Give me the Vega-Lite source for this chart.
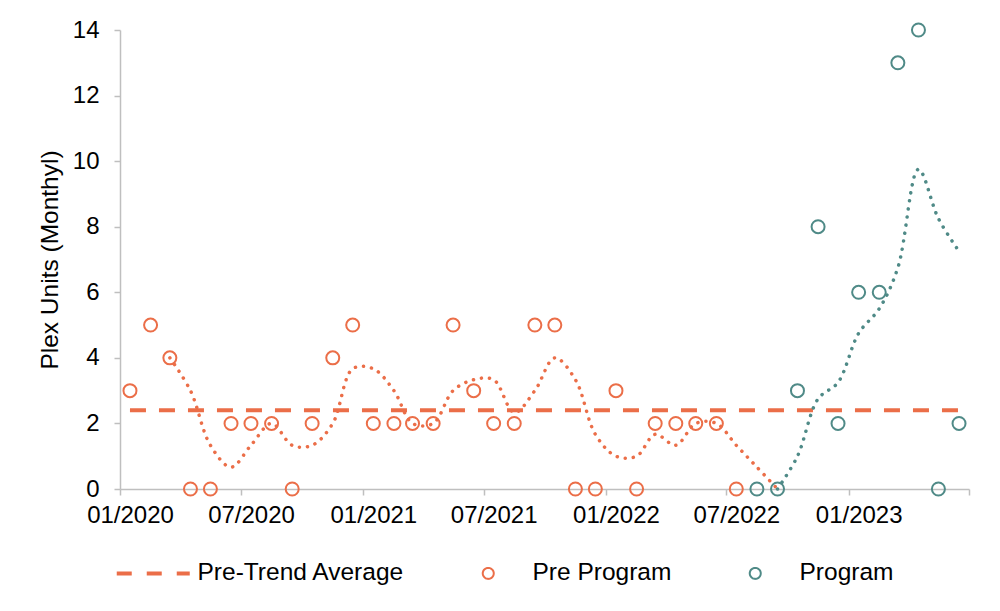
{
  "$schema": "https://vega.github.io/schema/vega-lite/v6.json",
  "width": 849,
  "height": 459,
  "autosize": {"type": "none"},
  "padding": {"left": 120, "top": 30, "right": 31, "bottom": 122},
  "background": "white",
  "config": {"view": {"stroke": null}, "font": "Liberation Sans"},
  "datasets": {
    "monthly": [
      {"date": "2020-01-16", "series": "Pre Program", "value": 3, "trend": null},
      {"date": "2020-02-16", "series": "Pre Program", "value": 5, "trend": null},
      {"date": "2020-03-16", "series": "Pre Program", "value": 4, "trend": 4},
      {"date": "2020-04-16", "series": "Pre Program", "value": 0, "trend": 3},
      {"date": "2020-05-16", "series": "Pre Program", "value": 0, "trend": 1.333},
      {"date": "2020-06-16", "series": "Pre Program", "value": 2, "trend": 0.667},
      {"date": "2020-07-16", "series": "Pre Program", "value": 2, "trend": 1.333},
      {"date": "2020-08-16", "series": "Pre Program", "value": 2, "trend": 2},
      {"date": "2020-09-16", "series": "Pre Program", "value": 0, "trend": 1.333},
      {"date": "2020-10-16", "series": "Pre Program", "value": 2, "trend": 1.333},
      {"date": "2020-11-16", "series": "Pre Program", "value": 4, "trend": 2},
      {"date": "2020-12-16", "series": "Pre Program", "value": 5, "trend": 3.667},
      {"date": "2021-01-16", "series": "Pre Program", "value": 2, "trend": 3.667},
      {"date": "2021-02-16", "series": "Pre Program", "value": 2, "trend": 3},
      {"date": "2021-03-16", "series": "Pre Program", "value": 2, "trend": 2},
      {"date": "2021-04-16", "series": "Pre Program", "value": 2, "trend": 2},
      {"date": "2021-05-16", "series": "Pre Program", "value": 5, "trend": 3},
      {"date": "2021-06-16", "series": "Pre Program", "value": 3, "trend": 3.333},
      {"date": "2021-07-16", "series": "Pre Program", "value": 2, "trend": 3.333},
      {"date": "2021-08-16", "series": "Pre Program", "value": 2, "trend": 2.333},
      {"date": "2021-09-16", "series": "Pre Program", "value": 5, "trend": 3},
      {"date": "2021-10-16", "series": "Pre Program", "value": 5, "trend": 4},
      {"date": "2021-11-16", "series": "Pre Program", "value": 0, "trend": 3.333},
      {"date": "2021-12-16", "series": "Pre Program", "value": 0, "trend": 1.667},
      {"date": "2022-01-16", "series": "Pre Program", "value": 3, "trend": 1},
      {"date": "2022-02-16", "series": "Pre Program", "value": 0, "trend": 1},
      {"date": "2022-03-16", "series": "Pre Program", "value": 2, "trend": 1.667},
      {"date": "2022-04-16", "series": "Pre Program", "value": 2, "trend": 1.333},
      {"date": "2022-05-16", "series": "Pre Program", "value": 2, "trend": 2},
      {"date": "2022-06-16", "series": "Pre Program", "value": 2, "trend": 2},
      {"date": "2022-07-16", "series": "Pre Program", "value": 0, "trend": 1.333},
      {"date": "2022-08-16", "series": "Pre Program", "value": null, "trend": 0.667},
      {"date": "2022-09-16", "series": "Pre Program", "value": null, "trend": 0},
      {"date": "2022-08-16", "series": "Program", "value": 0, "trend": null},
      {"date": "2022-09-16", "series": "Program", "value": 0, "trend": 0},
      {"date": "2022-10-16", "series": "Program", "value": 3, "trend": 1},
      {"date": "2022-11-16", "series": "Program", "value": 8, "trend": 2.75},
      {"date": "2022-12-16", "series": "Program", "value": 2, "trend": 3.25},
      {"date": "2023-01-16", "series": "Program", "value": 6, "trend": 4.75},
      {"date": "2023-02-16", "series": "Program", "value": 6, "trend": 5.5},
      {"date": "2023-03-16", "series": "Program", "value": 13, "trend": 6.75},
      {"date": "2023-04-16", "series": "Program", "value": 14, "trend": 9.75},
      {"date": "2023-05-16", "series": "Program", "value": 0, "trend": 8.25},
      {"date": "2023-06-16", "series": "Program", "value": 2, "trend": 7.25}
    ],
    "average": [
      {"series": "Pre-Trend Average", "date": "2020-01-16", "end": "2023-06-16", "value": 2.4}
    ]
  },
  "encoding": {
    "x": {
      "field": "date", "type": "temporal",
      "scale": {"type": "utc", "domain": [{"year": 2020, "month": 1, "date": 1, "utc": true}, {"year": 2023, "month": 7, "date": 1, "utc": true}]},
      "axis": {
        "title": null, "grid": false,
        "tickCount": {"interval": "month", "step": 6},
        "labelExpr": "utcFormat(datum.value, '%m/%Y') === '07/2023' ? '' : utcFormat(datum.value, '%m/%Y')",
        "labelOffset": 10, "labelFlush": false, "labelOverlap": false,
        "labelFont": "Liberation Sans", "labelFontSize": 24, "labelColor": "#000000",
        "labelPadding": 8, "tickSize": 6, "tickColor": "#BFBFBF", "tickWidth": 1.5,
        "domainColor": "#BFBFBF", "domainWidth": 1.5
      }
    },
    "y": {
      "field": "value", "type": "quantitative",
      "scale": {"domain": [0, 14], "nice": false, "zero": true},
      "axis": {
        "title": "Plex Units (Monthyl)", "titleFont": "Liberation Sans", "titleFontSize": 24.5, "titleFontWeight": "normal", "titleColor": "#000000", "titlePadding": 10,
        "grid": false, "values": [0, 2, 4, 6, 8, 10, 12, 14],
        "labelFont": "Liberation Sans", "labelFontSize": 24, "labelColor": "#000000", "labelPadding": 15,
        "tickSize": 6, "tickColor": "#BFBFBF", "tickWidth": 1.5,
        "domainColor": "#BFBFBF", "domainWidth": 1.5
      }
    },
    "color": {
      "field": "series", "type": "nominal",
      "scale": {"domain": ["Pre-Trend Average", "Pre Program", "Program"], "range": ["#EB6E48", "#EB6E48", "#4F8A87"]},
      "legend": {
        "title": null, "orient": "none", "legendX": 21, "legendY": 531, "direction": "horizontal",
        "symbolSize": 5329, "symbolStrokeWidth": 2, "labelFont": "Liberation Sans", "labelFontSize": 24.5, "labelColor": "#000000",
        "labelOffset": 32, "columnPadding": 71, "labelLimit": 400, "padding": 0,
        "encode": {
          "symbols": {
            "update": {
              "shape": {"signal": "datum.value === 'Pre-Trend Average' ? 'stroke' : 'circle'"},
              "size": {"signal": "datum.value === 'Pre-Trend Average' ? 5329 : 121"},
              "strokeDash": {"signal": "datum.value === 'Pre-Trend Average' ? [15, 15] : [1, 0]"},
              "strokeWidth": {"signal": "datum.value === 'Pre-Trend Average' ? 4 : 2"},
              "stroke": {"signal": "datum.value === 'Program' ? '#4F8A87' : '#EB6E48'"},
              "fill": {"value": "transparent"}
            }
          }
        }
      }
    }
  },
  "layer": [
    {
      "data": {"name": "average"},
      "mark": {"type": "rule", "strokeWidth": 4, "strokeDash": [16, 13]},
      "encoding": {
        "x2": {"field": "end"}
      }
    },
    {
      "data": {"name": "monthly"},
      "transform": [{"filter": "datum.trend != null"}],
      "mark": {"type": "line", "interpolate": "catmull-rom", "strokeWidth": 3.5, "strokeDash": [0.1, 8], "strokeCap": "round"},
      "encoding": {
        "y": {
          "field": "trend", "type": "quantitative",
          "scale": {"domain": [0, 14], "nice": false, "zero": true},
          "axis": {
            "title": "Plex Units (Monthyl)", "titleFont": "Liberation Sans", "titleFontSize": 24.5, "titleFontWeight": "normal", "titleColor": "#000000", "titlePadding": 10,
            "grid": false, "values": [0, 2, 4, 6, 8, 10, 12, 14],
            "labelFont": "Liberation Sans", "labelFontSize": 24, "labelColor": "#000000", "labelPadding": 15,
            "tickSize": 6, "tickColor": "#BFBFBF", "tickWidth": 1.5,
            "domainColor": "#BFBFBF", "domainWidth": 1.5
          }
        }
      }
    },
    {
      "data": {"name": "monthly"},
      "transform": [{"filter": "datum.value != null"}],
      "mark": {"type": "point", "filled": false, "size": 169, "strokeWidth": 2, "opacity": 1}
    }
  ]
}
